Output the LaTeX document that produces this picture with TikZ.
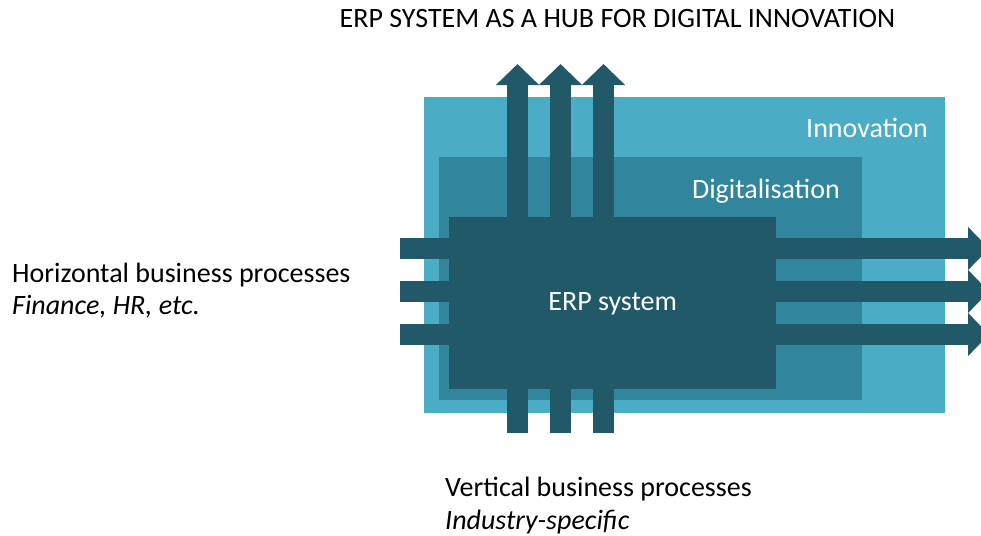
\documentclass[tikz,border=0pt]{standalone}
\usepackage{fontspec}
\setmainfont{Carlito}
\usetikzlibrary{arrows.meta}
\definecolor{tealLight}{HTML}{4BACC6}
\definecolor{tealMid}{HTML}{31859C}
\definecolor{tealDark}{HTML}{215968}
\tikzset{%
	every layer/.style={
		rectangle,
		inner sep=0pt,
		anchor=north west,
		text=white,
		font=\fontsize{28}{34}\selectfont
	},
	flow/.style={
		draw=tealDark,
		line width=21pt,
		-{Triangle[width=42pt,length=21pt]}
	},
	caption/.style={
		inner sep=0pt,
		anchor=base west,
		font=\fontsize{28}{34}\selectfont
	},
}

\begin{document}
\begin{tikzpicture}[x=1pt, y=-1pt]
		\useasboundingbox (0,0) rectangle (981,535);
		
		\node [every layer/.try, fill=tealLight, minimum width=521pt, minimum height=316pt] (innovation) at (424,97) {};
		\node [every layer/.try, fill=tealMid, minimum width=423pt, minimum height=243pt] (digital) at (439,157) {};
		
		\foreach \x [count=\i] in {517.5,560.5,603.5}
		{
		\coordinate (vert-in-\i) at (\x,433);
		\coordinate (vert-out-\i) at (\x,64);
		\draw [flow] (vert-in-\i) -- (vert-out-\i);
		}
		
		\foreach \y [count=\i] in {248.5,291.5,334.5}
		{
		\coordinate (horz-in-\i) at (400,\y);
		\coordinate (horz-out-\i) at (989,\y);
		\draw [flow] (horz-in-\i) -- (horz-out-\i);
		}
		
		\node [every layer/.try, fill=tealDark, minimum width=327pt, minimum height=172pt] (erp) at (449,217) {};
		\node [caption, anchor=base, text=white] (erp-label) at (erp.center |- 0,310) {ERP system};
		
		\node [caption, anchor=base east, text=white] (innovation-label) at (928,137) {Innovation};
		\node [caption, anchor=base east, text=white] (digital-label) at (840,198) {Digitalisation};
		
		\node [caption, anchor=base] (title) at (617.5,28) {ERP SYSTEM AS A HUB FOR DIGITAL INNOVATION};
		
		\node [caption] (horz-label) at (12,282) {Horizontal business processes};
		\node [caption] (horz-note) at (12,314) {\itshape Finance, HR, etc.};
		
		\node [caption] (vert-label) at (445,496) {Vertical business processes};
		\node [caption] (vert-note) at (445,529) {\itshape Industry-specific};
		
\end{tikzpicture}
\end{document}
